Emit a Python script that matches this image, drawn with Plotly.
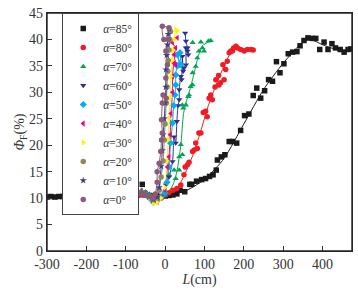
import plotly.graph_objects as go

FONT = "Liberation Serif"

# ---------------- data ----------------
L85 = [-300,-290,-280,-270,-260,-250,-240,-230,-220,-210,-200,-190,-180,-170,-160,-150,-140,-130,-120,-110,
       -100,-90,-80,-70,-58,-50,-40,-30,-20,-10,0,10,20,30,
       38,50,63,68,80,93,103,113,122,130,133,143,152,163,171,182,192,202,213,224,233,243,253,263,273,283,292,302,
       313,324,335,343,353,363,374,383,393,404,414,424,433,445,455,465,472]
P85 = [10.2,10.3,10.2,10.3,10.3,10.4,10.3,10.4,10.5,10.5,10.6,10.6,10.7,10.8,10.9,11.0,11.1,11.1,11.0,10.9,
       10.8,10.7,10.6,10.6,12.6,10.6,10.5,10.4,10.3,10.3,10.4,10.5,10.6,10.8,
       11.5,11.2,12.6,12.6,13.2,13.5,13.7,14.1,14.4,15.3,17.2,17.8,18.2,20.7,20.7,20.4,22.8,25.6,25.9,29.4,30.8,28.9,30.3,32.4,32.1,35.8,33.7,35.4,
       37.3,37.6,37.7,38.8,39.8,40.3,40.2,40.2,38.1,39.5,38.1,39.2,38.4,38.1,37.6,38.1,38.2]
FIT85_L = [-300,-150,-100,-50,0,50,100,150,200,250,300,350,370,400,440,475]
FIT85_P = [10.2,11.0,10.7,10.8,10.5,11.3,13.5,17.5,24.0,30.5,35.5,39.5,40.0,39.0,38.0,38.0]

L80 = [-230,-220,-210,-200,-190,-180,-170,-160,-150,-140,-130,-120,-110,
       -100,-90,-80,-70,-60,-50,-40,-30,-20,-10,0,10,20,30,
       40,48,51,57,61,70,74,78,82,86,91,97,103,107,112,116,120,127,129,136,137,141,147,150,154,158,163,167,171,174,180,184,192,201,209,218,224]
P80 = [10.5,10.4,10.5,10.3,10.4,10.5,10.4,10.6,10.5,10.4,10.5,10.6,10.5,
       10.3,10.0,10.2,10.4,10.6,11.0,10.5,10.2,10.0,10.3,10.6,11.0,11.5,11.8,
       12.5,14.4,15.9,16.3,16.8,18.8,19.1,20.4,19.4,22.3,22.3,26.2,26.4,25.4,28.9,29.5,28.6,31.0,32.4,33.2,31.4,31.8,35.2,32.4,34.3,35.9,37.5,37.8,37.8,38.4,38.7,38.4,38.1,37.8,38.1,38.1,38.0]
FIT80_L = [-230,-100,-50,0,30,50,70,90,110,130,150,170,190,224]
FIT80_P = [10.5,10.3,10.6,10.5,11.8,14.5,18.0,22.5,27.5,31.5,35.0,37.8,38.3,38.0]

L70 = [-130,-120,-110,-100,-90,-80,-70,-60,-50,-40,-30,-20,-10,0,
       10,23,27,36,36,40,44,44,46,53,59,61,65,70,70,78,82,86,91,95,99,110,116,70]
P70 = [10.6,10.5,10.4,10.3,10.2,10.0,10.6,11.5,11.2,10.8,10.2,9.8,10.0,10.5,
       14.4,15.3,13.7,15.3,17.8,20.1,18.2,27.6,27.0,27.6,29.2,29.5,31.1,31.4,33.7,34.9,36.5,37.8,39.5,38.4,37.8,39.7,39.8,39.4]
FIT70_L = [-130,-60,-30,0,20,30,40,47,55,65,75,85,95,116]
FIT70_P = [10.5,11.2,10.2,10.5,12.5,15.0,20.0,26.0,28.5,31.0,34.0,37.0,38.8,39.8]

L60 = [-100,-90,-80,-70,-60,-50,-40,-30,-20,-10,0,2,10,19,23,27,30,33,36,36,40,42,44,46,48,53,53,57,59,57,53,51]
P60 = [10.4,10.5,10.6,10.8,11.0,10.8,10.2,9.6,9.8,10.3,11.0,12.5,14.0,16.9,21.6,20.4,24.5,27.5,28.6,30.5,33.0,32.4,36.8,34.0,34.6,35.2,38.4,37.8,37.1,38.4,39.7,41.2]

L50 = [-100,-90,-80,-70,-60,-50,-40,-30,-20,-10,0,5,10,14,19,22,25,27,27,31,36,31,40,38]
P50 = [10.5,10.6,10.7,10.9,11.2,10.8,10.0,9.2,9.5,10.2,11.0,13.0,15.9,20.4,24.2,27.5,29.5,31.4,33.3,35.0,35.2,37.1,35.2,37.5]

L40 = [-100,-90,-80,-70,-60,-50,-40,-30,-20,-10,0,6,10,13,15,19,19,23,27,23,27,19,31]
P40 = [10.6,10.5,10.8,11.0,11.3,10.9,10.1,9.4,9.3,10.0,11.5,15.9,17.8,22.0,26.0,30.0,33.0,35.5,35.2,37.1,38.4,39.4,40.3]

L30 = [-100,-90,-80,-70,-60,-50,-40,-30,-20,-10,0,5,8,10,13,15,18,20,23,27,31]
P30 = [10.4,10.7,10.9,11.1,11.0,10.7,10.0,9.0,9.2,10.0,12.0,17.0,21.0,25.0,29.0,33.0,36.0,38.0,40.0,41.9,41.6]

L20 = [-100,-90,-80,-70,-60,-50,-40,-30,-20,-15,-10,-5,-2,0,3,5,7,8,10,12,14]
P20 = [10.5,10.6,10.8,11.0,11.1,10.8,10.3,9.7,10.0,11.5,14.0,17.0,21.0,24.0,28.0,31.0,34.0,36.0,38.0,40.0,41.5]

L10 = [-100,-90,-80,-70,-60,-50,-40,-30,-20,-15,-10,-7,-5,-2,0,2,2,4,6,8,10]
P10 = [10.4,10.5,10.6,10.9,11.0,10.7,10.2,9.8,10.2,12.0,16.0,19.0,22.0,25.0,28.0,31.0,34.3,37.0,39.0,41.0,42.0]

L0 = [-100,-90,-80,-70,-60,-50,-40,-30,-25,-20,-20,-15,-11,-9,-7,-9,-7,-5,3,2,6,2,8,-3,-7,10]
P0 = [10.3,10.4,10.5,10.8,10.9,10.6,10.3,10.0,10.8,13.0,15.0,16.6,18.8,21.0,22.3,24.8,28.0,29.5,28.9,32.7,35.2,37.8,40.0,40.0,42.5,42.2]

X_TICKS = [-300, -200, -100, 0, 100, 200, 300, 400]
Y_TICKS = [0, 5, 10, 15, 20, 25, 30, 35, 40, 45]

# ---------------- figure ----------------
series = [
    ("85", L85, P85, "#1a1a1a", "square", (FIT85_L, FIT85_P)),
    ("80", L80, P80, "#ee1c25", "circle", (FIT80_L, FIT80_P)),
    ("70", L70, P70, "#00a650", "triangle-up", (FIT70_L, FIT70_P)),
    ("60", L60, P60, "#2e3192", "triangle-down", None),
    ("50", L50, P50, "#00aeef", "diamond", None),
    ("40", L40, P40, "#ec008c", "triangle-left", None),
    ("30", L30, P30, "#fff200", "triangle-right", None),
    ("20", L20, P20, "#8f8760", "circle", None),
    ("10", L10, P10, "#3d3f8c", "star", None),
    ("0", L0, P0, "#8a5a78", "circle", None),
]

fig = go.Figure()
for name, xs, ys, col, sym, fit in series:
    if fit is not None:
        lx, ly = fit
    else:
        lx, ly = xs, ys
    fig.add_trace(go.Scatter(x=lx, y=ly, mode="lines", line=dict(color=col, width=1.0, shape="spline", smoothing=0.6),
                             showlegend=False, hoverinfo="skip"))
for name, xs, ys, col, sym, fit in series:
    fig.add_trace(go.Scatter(x=xs, y=ys, mode="markers", name="<i>α</i>=" + name + "°",
                             marker=dict(color=col, symbol=sym, size=5.5, line=dict(width=0))))

fig.update_layout(
    width=358, height=292,
    margin=dict(l=47, r=6, t=13, b=41, autoexpand=False),
    paper_bgcolor="white", plot_bgcolor="white",
    font=dict(family=FONT, size=13, color="#222"),
    showlegend=True,
    legend=dict(x=0.05, y=1.0, xanchor="left", yanchor="top",
                bordercolor="#444", borderwidth=1, bgcolor="white",
                font=dict(family=FONT, size=11.5, color="#333"),
                tracegroupgap=0, itemsizing="trace"),
    shapes=[dict(type="rect", xref="paper", yref="paper", x0=0, x1=1, y0=0, y1=1,
                 line=dict(color="#222", width=1.4), fillcolor="rgba(0,0,0,0)", layer="above")],
)
fig.update_xaxes(range=[-300, 475], tickvals=X_TICKS, ticktext=[str(v) for v in X_TICKS],
                 ticks="inside", ticklen=5, tickcolor="#333", showgrid=False, zeroline=False,
                 showline=True, linecolor="#333", linewidth=1.2, mirror=True, automargin=False,
                 ticklabeloverflow="allow",
                 tickfont=dict(family=FONT, size=14, color="#333"),
                 title=dict(text="<i>L</i>(cm)", font=dict(family=FONT, size=14, color="#333"), standoff=0))
fig.update_yaxes(range=[0, 45], tickvals=Y_TICKS, ticktext=[str(v) for v in Y_TICKS],
                 ticks="inside", ticklen=5, tickcolor="#333", showgrid=False, zeroline=False,
                 showline=True, linecolor="#333", linewidth=1.2, mirror=True, automargin=False,
                 ticklabeloverflow="allow",
                 tickfont=dict(family=FONT, size=14, color="#333"),
                 title=dict(text="<i>Φ</i><sub>F</sub>(%)", font=dict(family=FONT, size=14, color="#333"), standoff=0))

# remove the default page margin so the 358x292 figure fills the window exactly
fig.write_html("out.html",
               config={"displayModeBar": False},
               post_script="document.body.style.margin='0';document.body.style.overflow='hidden';")
